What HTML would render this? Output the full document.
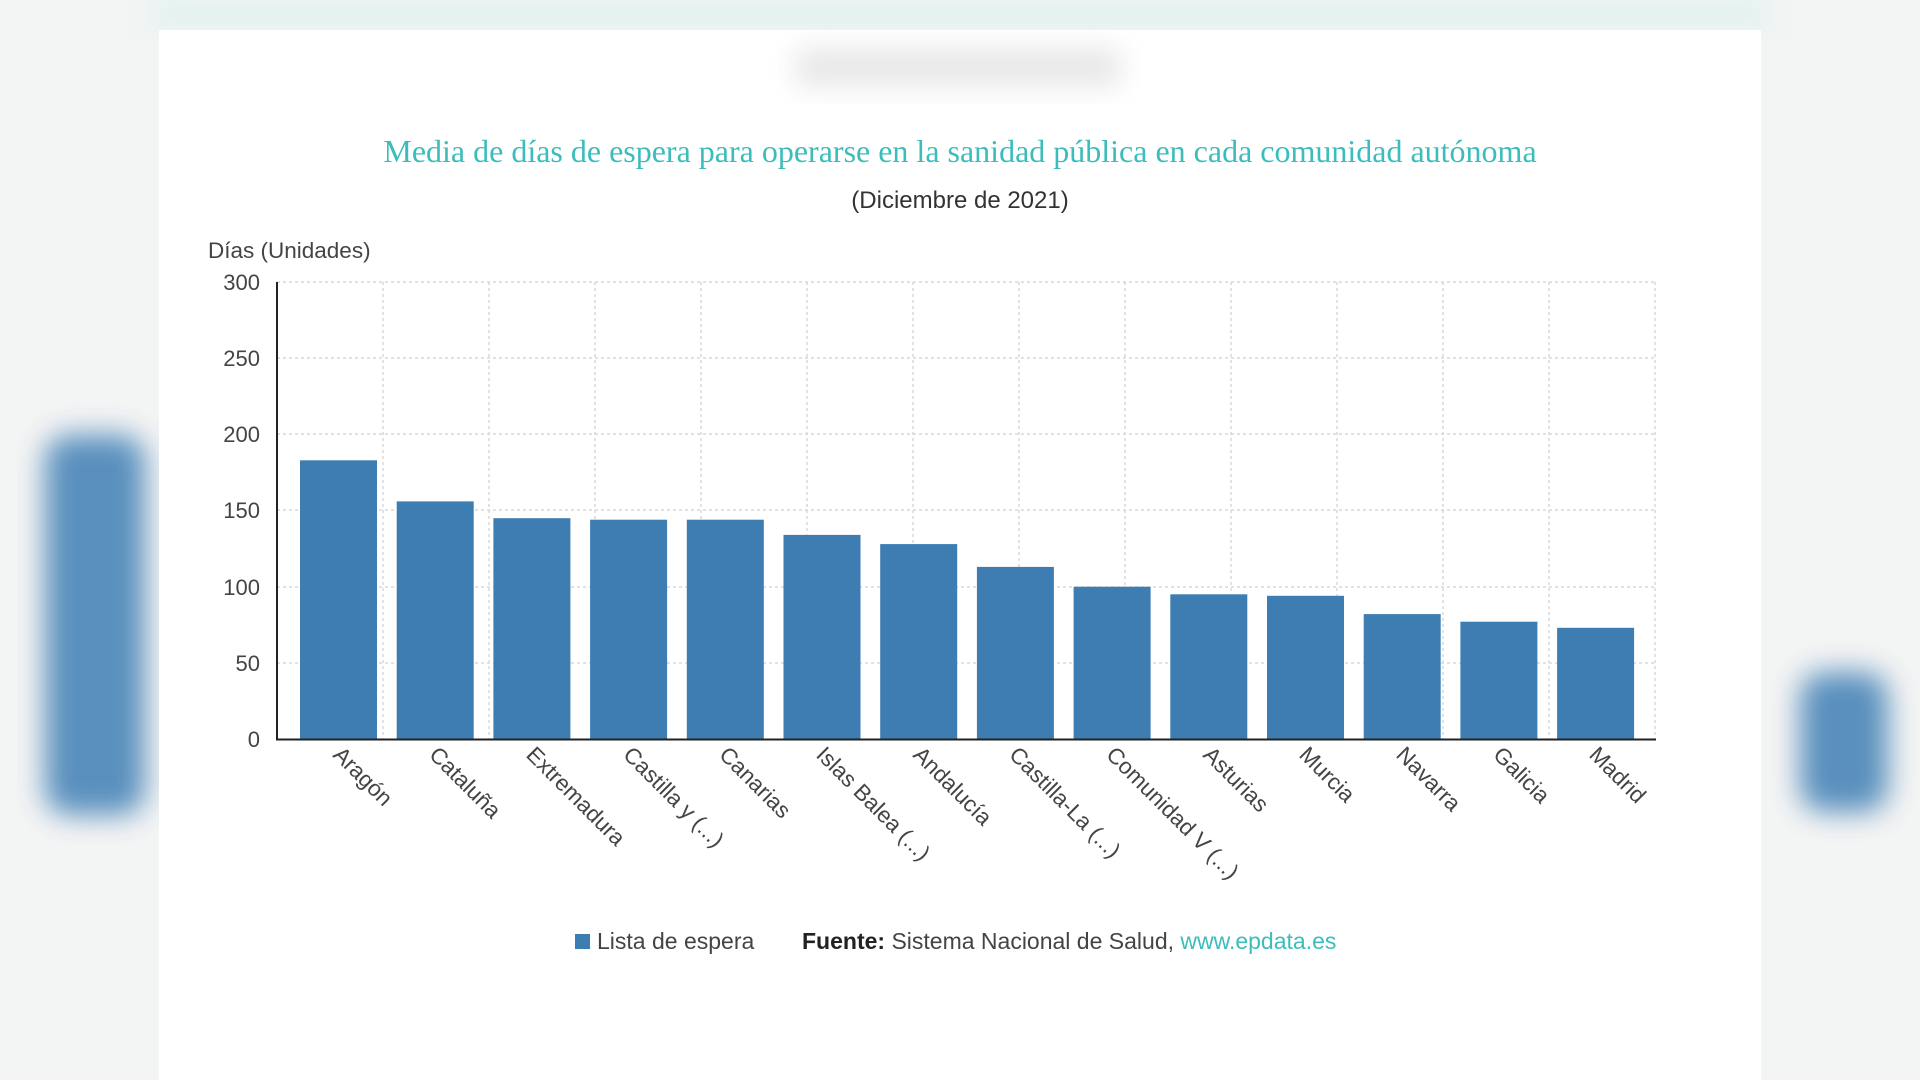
<!DOCTYPE html>
<html><head><meta charset="utf-8"><style>
html,body{margin:0;padding:0;width:1920px;height:1080px;overflow:hidden;background:#f4f5f5}
</style></head><body>
<svg width="1920" height="1080" viewBox="0 0 1920 1080" xmlns="http://www.w3.org/2000/svg" style="position:absolute;left:0;top:0">
<defs>
<filter id="b" x="-50%" y="-50%" width="200%" height="200%"><feGaussianBlur stdDeviation="14"/></filter>
</defs>
<rect width="1920" height="1080" fill="#f3f4f4"/>
<rect x="45" y="435" width="100" height="380" rx="25" fill="#4a85b8" filter="url(#b)" opacity="0.9"/>
<rect x="1800" y="672" width="88" height="140" rx="25" fill="#4a85b8" filter="url(#b)" opacity="0.9"/>
<rect x="150" y="0" width="1620" height="28" fill="#dff2f0" filter="url(#b)"/>
<rect x="159" y="30" width="1602" height="1050" fill="#ffffff"/>
<rect x="796" y="49" width="324" height="37" fill="#e6e6e6" filter="url(#b)"/>
<text x="960" y="162" text-anchor="middle" font-family="Liberation Serif, serif" font-size="32" fill="#3bbdbb">Media de días de espera para operarse en la sanidad pública en cada comunidad autónoma</text>
<text x="960" y="208" text-anchor="middle" font-family="Liberation Sans, sans-serif" font-size="24" fill="#333">(Diciembre de 2021)</text>
<text x="208" y="258" font-family="Liberation Sans, sans-serif" font-size="22.5" fill="#444">Días (Unidades)</text>
<g stroke="#d8d8d8" stroke-width="1.5" stroke-dasharray="3,3">
<line x1="277" y1="282" x2="1656" y2="282"/><line x1="277" y1="358" x2="1656" y2="358"/>
<line x1="277" y1="434" x2="1656" y2="434"/><line x1="277" y1="510" x2="1656" y2="510"/>
<line x1="277" y1="587" x2="1656" y2="587"/><line x1="277" y1="663" x2="1656" y2="663"/>
<line x1="383" y1="282" x2="383" y2="739"/><line x1="489" y1="282" x2="489" y2="739"/>
<line x1="595" y1="282" x2="595" y2="739"/><line x1="701" y1="282" x2="701" y2="739"/>
<line x1="807" y1="282" x2="807" y2="739"/><line x1="913" y1="282" x2="913" y2="739"/>
<line x1="1019" y1="282" x2="1019" y2="739"/><line x1="1125" y1="282" x2="1125" y2="739"/>
<line x1="1231" y1="282" x2="1231" y2="739"/><line x1="1337" y1="282" x2="1337" y2="739"/>
<line x1="1443" y1="282" x2="1443" y2="739"/><line x1="1549" y1="282" x2="1549" y2="739"/>
<line x1="1655" y1="282" x2="1655" y2="739"/>
</g>
<g font-family="Liberation Sans, sans-serif" font-size="22" fill="#444" text-anchor="end">
<text x="260" y="290">300</text><text x="260" y="366">250</text><text x="260" y="442">200</text>
<text x="260" y="518">150</text><text x="260" y="595">100</text><text x="260" y="671">50</text><text x="260" y="747">0</text>
</g>
<g fill="#3d7db2">
<rect x="300" y="460.3" width="77" height="278.7"/>
<rect x="396.7" y="501.4" width="77" height="237.6"/>
<rect x="493.4" y="518.2" width="77" height="220.8"/>
<rect x="590.1" y="519.7" width="77" height="219.3"/>
<rect x="686.8" y="519.7" width="77" height="219.3"/>
<rect x="783.5" y="534.9" width="77" height="204.1"/>
<rect x="880.2" y="544.1" width="77" height="194.9"/>
<rect x="976.9" y="566.9" width="77" height="172.1"/>
<rect x="1073.6" y="586.7" width="77" height="152.3"/>
<rect x="1170.3" y="594.3" width="77" height="144.7"/>
<rect x="1267" y="595.8" width="77" height="143.2"/>
<rect x="1363.7" y="614.1" width="77" height="124.9"/>
<rect x="1460.4" y="621.7" width="77" height="117.3"/>
<rect x="1557.1" y="627.8" width="77" height="111.2"/>
</g>
<line x1="277" y1="282" x2="277" y2="740" stroke="#222" stroke-width="2"/>
<line x1="276" y1="739.5" x2="1656" y2="739.5" stroke="#222" stroke-width="2"/>
<g font-family="Liberation Sans, sans-serif" font-size="22.5" fill="#444">
<text transform="translate(332,756) rotate(45)">Aragón</text>
<text transform="translate(428,756) rotate(45)">Cataluña</text>
<text transform="translate(525,756) rotate(45)">Extremadura</text>
<text transform="translate(622,756) rotate(45)">Castilla y (...)</text>
<text transform="translate(718,756) rotate(45)">Canarias</text>
<text transform="translate(815,756) rotate(45)">Islas Balea (...)</text>
<text transform="translate(912,756) rotate(45)">Andalucía</text>
<text transform="translate(1008,756) rotate(45)">Castilla-La (...)</text>
<text transform="translate(1105,756) rotate(45)">Comunidad V (...)</text>
<text transform="translate(1202,756) rotate(45)">Asturias</text>
<text transform="translate(1298,756) rotate(45)">Murcia</text>
<text transform="translate(1395,756) rotate(45)">Navarra</text>
<text transform="translate(1492,756) rotate(45)">Galicia</text>
<text transform="translate(1588,756) rotate(45)">Madrid</text>
</g>
<rect x="575" y="934" width="15" height="15" fill="#3d7db2"/>
<text x="597" y="949" font-family="Liberation Sans, sans-serif" font-size="23" fill="#444">Lista de espera</text>
<text x="802" y="949" font-family="Liberation Sans, sans-serif" font-size="23" fill="#444"><tspan font-weight="bold" fill="#222">Fuente:</tspan> Sistema Nacional de Salud, <tspan fill="#3bbdbb">www.epdata.es</tspan></text>
</svg>
</body></html>
